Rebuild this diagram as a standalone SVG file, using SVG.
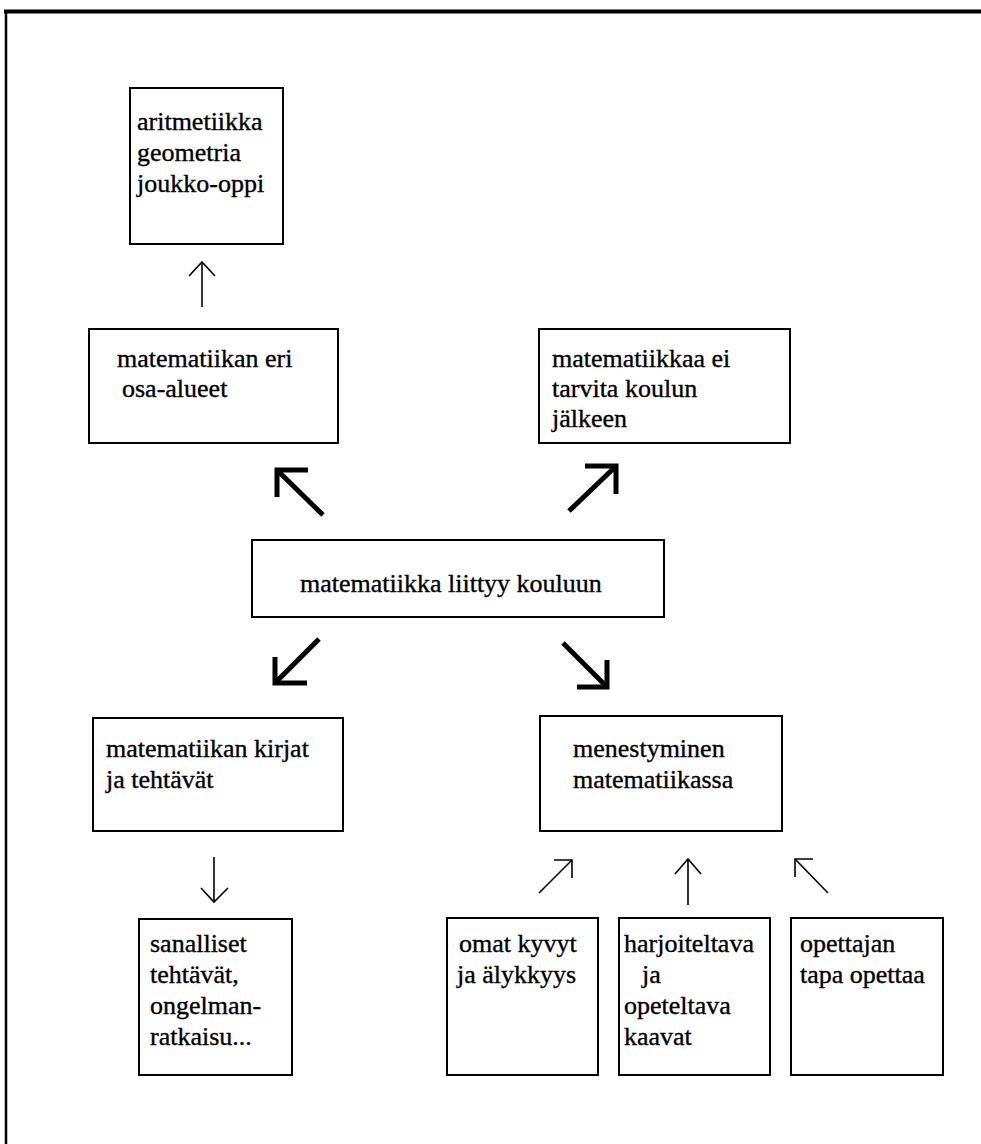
<svg xmlns="http://www.w3.org/2000/svg" width="981" height="1144" viewBox="0 0 981 1144">
  <style>
    .box { fill: #fff; stroke: #000; stroke-width: 2; }
    .lbl { font-family: "Liberation Serif", "Times New Roman", serif; font-size: 26px; fill: #000; stroke: #000; stroke-width: 0.35; }
    .bold { fill: none; stroke: #000; stroke-width: 5; stroke-linejoin: miter; stroke-linecap: butt; }
    .thin { fill: none; stroke: #000; stroke-width: 1.6; stroke-linejoin: miter; }
    .frame { fill: none; stroke: #000; }
  </style>
  <rect width="981" height="1144" fill="#fff"/>

  <!-- page frame: heavy top rule and left rule -->
  <g id="frame">
    <line class="frame" x1="4" y1="11.5" x2="981" y2="11.5" stroke-width="4"/>
    <line class="frame" x1="6" y1="10" x2="6" y2="1144" stroke-width="2.5"/>
  </g>

  <g id="node-aritmetiikka">
    <rect class="box" x="130" y="88" width="153" height="156"/>
    <text class="lbl" x="137" y="130">aritmetiikka</text>
    <text class="lbl" x="137" y="161">geometria</text>
    <text class="lbl" x="137" y="192">joukko-oppi</text>
  </g>

  <g id="node-osa-alueet">
    <rect class="box" x="89" y="329" width="249" height="114"/>
    <text class="lbl" x="117" y="367">matematiikan eri</text>
    <text class="lbl" x="122" y="397">osa-alueet</text>
  </g>

  <g id="node-ei-tarvita">
    <rect class="box" x="539" y="329" width="251" height="114"/>
    <text class="lbl" x="552" y="367">matematiikkaa ei</text>
    <text class="lbl" x="552" y="397">tarvita koulun</text>
    <text class="lbl" x="552" y="427">jälkeen</text>
  </g>

  <g id="node-keskus">
    <rect class="box" x="252" y="540" width="412" height="77"/>
    <text class="lbl" x="300" y="592">matematiikka liittyy kouluun</text>
  </g>

  <g id="node-kirjat">
    <rect class="box" x="93" y="718" width="250" height="113"/>
    <text class="lbl" x="106" y="757">matematiikan kirjat</text>
    <text class="lbl" x="106" y="788">ja tehtävät</text>
  </g>

  <g id="node-menestyminen">
    <rect class="box" x="540" y="716" width="242" height="115"/>
    <text class="lbl" x="573" y="757">menestyminen</text>
    <text class="lbl" x="573" y="788">matematiikassa</text>
  </g>

  <g id="node-sanalliset">
    <rect class="box" x="139" y="919" width="153" height="156"/>
    <text class="lbl" x="150" y="952">sanalliset</text>
    <text class="lbl" x="150" y="983">tehtävät,</text>
    <text class="lbl" x="150" y="1014">ongelman-</text>
    <text class="lbl" x="150" y="1045">ratkaisu...</text>
  </g>

  <g id="node-kyvyt">
    <rect class="box" x="447" y="918" width="151" height="157"/>
    <text class="lbl" x="459" y="952">omat kyvyt</text>
    <text class="lbl" x="457" y="983">ja älykkyys</text>
  </g>

  <g id="node-kaavat">
    <rect class="box" x="619" y="918" width="151" height="157"/>
    <text class="lbl" x="624" y="952">harjoiteltava</text>
    <text class="lbl" x="642" y="983">ja</text>
    <text class="lbl" x="624" y="1014">opeteltava</text>
    <text class="lbl" x="624" y="1045">kaavat</text>
  </g>

  <g id="node-opettaja">
    <rect class="box" x="791" y="918" width="152" height="157"/>
    <text class="lbl" x="800" y="952">opettajan</text>
    <text class="lbl" x="800" y="983">tapa opettaa</text>
  </g>

  <g id="connectors">
    <!-- thin arrow up to the topic list -->
    <line class="thin" x1="202" y1="307" x2="202" y2="262"/>
    <polyline class="thin" points="189,276 202,262 215,276"/>

    <!-- heavy diagonal arrows out of the central box -->
    <line class="bold" x1="323" y1="515" x2="279" y2="472"/>
    <polyline class="bold" points="308,470 277,470 277,497"/>

    <line class="bold" x1="569" y1="511" x2="614" y2="468"/>
    <polyline class="bold" points="585,466 616,466 616,494"/>

    <line class="bold" x1="319" y1="639" x2="277" y2="681"/>
    <polyline class="bold" points="275,657 275,683 307,683"/>

    <line class="bold" x1="563" y1="643" x2="605" y2="685"/>
    <polyline class="bold" points="607,660 607,687 577,687"/>

    <!-- thin arrow down to word problems -->
    <line class="thin" x1="214" y1="857" x2="214" y2="902"/>
    <polyline class="thin" points="201,888 214,902 228,888"/>

    <!-- thin arrows up into the success box -->
    <line class="thin" x1="539" y1="893" x2="572" y2="860"/>
    <polyline class="thin" points="554,860 572,860 572,878"/>

    <line class="thin" x1="688" y1="905" x2="688" y2="859"/>
    <polyline class="thin" points="675,874 688,859 701,874"/>

    <line class="thin" x1="828" y1="893" x2="795" y2="859"/>
    <polyline class="thin" points="813,859 795,859 795,877"/>
  </g>
</svg>
